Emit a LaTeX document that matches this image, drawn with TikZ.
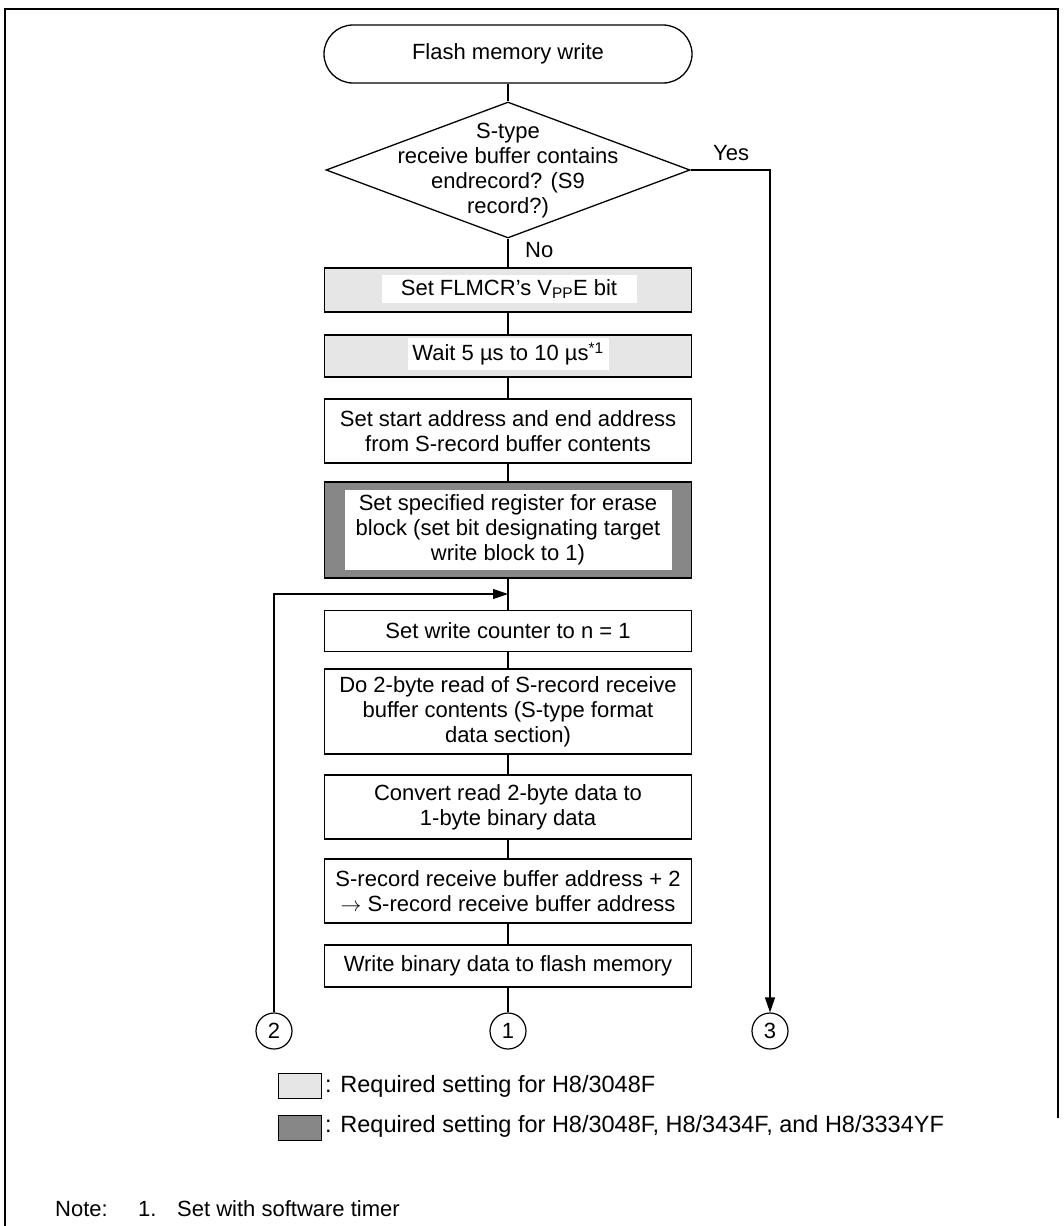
\documentclass[tikz,border=0pt]{standalone}
\usepackage{fontspec}
\setmainfont{Liberation Sans}
\usetikzlibrary{arrows.meta,shapes.geometric}
\definecolor{lightfill}{RGB}{230,230,230}
\definecolor{darkfill}{RGB}{135,135,135}
\begin{document}
\begin{tikzpicture}[x=1pt,y=-1pt,
  every node/.style={font=\fontsize{22}{25}\selectfont, inner sep=0pt},
  conn/.style={line width=1.2pt},
  arr/.style={line width=1.2pt, -{Triangle[length=15pt,width=10pt]}},
  box/.style={draw, line width=1.3pt, minimum width=367pt, align=center, fill=white},
  lightbox/.style={box, fill=lightfill},
  darkbox/.style={box, fill=darkfill},
  whitelabel/.style={fill=white, align=center},
  term/.style={draw, line width=1.3pt, rounded corners=29pt, minimum width=368pt, minimum height=58pt},
  decision/.style={draw, line width=1.3pt, diamond, minimum width=364pt, minimum height=136pt},
  conncircle/.style={draw, circle, line width=1.2pt, minimum size=36pt},
  legendbox/.style={draw, line width=1pt, minimum width=43pt, minimum height=25pt},
  legendtext/.style={anchor=west, font=\fontsize{23.5}{26}\selectfont}
]
\useasboundingbox (0,0) rectangle (1064,1226);
% frame
\draw[line width=2pt] (5,1230) -- (5,9) -- (1058,9) -- (1058,1118);

% start
\node[term] (start) at (508,54) {Flash memory write};

% decision
\node[decision] (dia) at (508,170) {};
\node[align=center] (diat) at (508,171) {S-type\\receive buffer contains\\endrecord? (S9\\record?)};
\node[anchor=west] (yes) at (713,153) {Yes};
\node[anchor=west] (no) at (525,250) {No};

% boxes
\node[lightbox, minimum height=44pt] (b1) at (508,290) {};
\node[whitelabel, minimum width=255pt, minimum height=28pt] (b1t) at (509,289) {Set FLMCR's V\textsubscript{PP}E bit};

\node[lightbox, minimum height=42pt] (b2) at (508,356) {};
\node[whitelabel, minimum width=201pt, minimum height=32pt] (b2t) at (508,354) {Wait 5 µs to 10 µs\textsuperscript{*1}};

\node[box, minimum height=64pt] (b3) at (508,431) {Set start address and end address\\from S-record buffer contents};

\node[darkbox, minimum height=96pt] (b4) at (508,530) {};
\node[whitelabel, minimum width=327pt, minimum height=80pt] (b4t) at (508,530) {Set specified register for erase\\block (set bit designating target\\write block to 1)};

\coordinate (loopend) at (508,594);

\node[box, minimum height=41pt] (b5) at (508,631) {Set write counter to n = 1};
\node[box, minimum height=85pt] (b6) at (508,711.5) {Do 2-byte read of S-record receive\\buffer contents (S-type format\\data section)};
\node[box, minimum height=64pt] (b7) at (508,807) {Convert read 2-byte data to\\1-byte binary data};
\node[box, minimum height=64pt] (b8) at (508,891) {S-record receive buffer address + 2\\$\rightarrow$ S-record receive buffer address};
\node[box, minimum height=42pt] (b9) at (508,966) {Write binary data to flash memory};

% connectors
\node[conncircle] (c1) at (508,1031) {1};
\node[conncircle] (c2) at (274,1031) {2};
\node[conncircle] (c3) at (770,1031) {3};

\draw[conn] (start.south) -- (dia.north);
\draw[conn] (dia.south) -- (b1.north);
\draw[conn] (b1.south) -- (b2.north);
\draw[conn] (b2.south) -- (b3.north);
\draw[conn] (b3.south) -- (b4.north);
\draw[conn] (b4.south) -- (b5.north);
\draw[conn] (b5.south) -- (b6.north);
\draw[conn] (b6.south) -- (b7.north);
\draw[conn] (b7.south) -- (b8.north);
\draw[conn] (b8.south) -- (b9.north);
\draw[conn] (b9.south) -- (c1.north);
\draw[arr] (dia.east) -- (dia.east -| c3.north) -- (c3.north);
\draw[arr] (c2.north) |- (loopend);

% legend
\node[legendbox, fill=lightfill] (lg1) at (299.5,1085.5) {};
\node[legendtext] (lg1t) at (325,1086) {: Required setting for H8/3048F};
\node[legendbox, fill=darkfill] (lg2) at (299.5,1127.5) {};
\node[legendtext] (lg2t) at (325,1126) {: Required setting for H8/3048F, H8/3434F, and H8/3334YF};

% note
\node[anchor=west] (note) at (55,1209) {Note:};
\node[anchor=west] (note1) at (138,1209) {1.};
\node[anchor=west] (note1t) at (177,1209) {Set with software timer};
\end{tikzpicture}
\end{document}
